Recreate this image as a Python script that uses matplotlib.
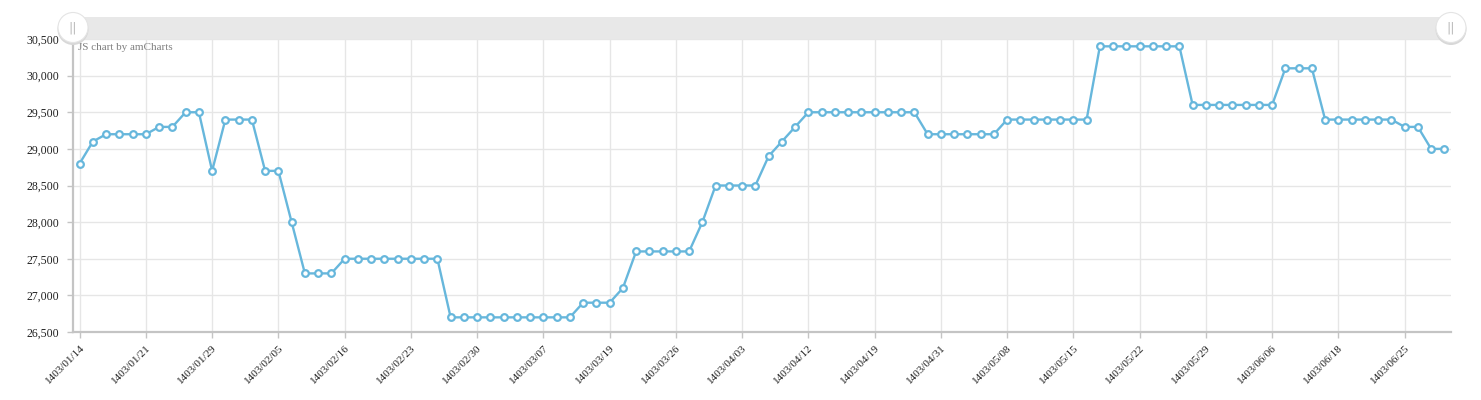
import matplotlib
matplotlib.use('Agg')
import matplotlib.pyplot as plt
from matplotlib.patches import Rectangle, Circle

# Precios por fecha (calendario persa), un punto por registro
precios = [
    28800, 29100, 29200, 29200, 29200, 29200, 29300, 29300, 29500, 29500,
    28700, 29400, 29400, 29400, 28700, 28700, 28000, 27300, 27300, 27300,
    27500, 27500, 27500, 27500, 27500, 27500, 27500, 27500, 26700, 26700,
    26700, 26700, 26700, 26700, 26700, 26700, 26700, 26700, 26900, 26900,
    26900, 27100, 27600, 27600, 27600, 27600, 27600, 28000, 28500, 28500,
    28500, 28500, 28900, 29100, 29300, 29500, 29500, 29500, 29500, 29500,
    29500, 29500, 29500, 29500, 29200, 29200, 29200, 29200, 29200, 29200,
    29400, 29400, 29400, 29400, 29400, 29400, 29400, 30400, 30400, 30400,
    30400, 30400, 30400, 30400, 29600, 29600, 29600, 29600, 29600, 29600,
    29600, 30100, 30100, 30100, 29400, 29400, 29400, 29400, 29400, 29400,
    29300, 29300, 29000, 29000,
]

# Etiquetas visibles del eje x (una cada 5 puntos)
etiquetas_x = [
    '1403/01/14', '1403/01/21', '1403/01/29', '1403/02/05', '1403/02/16',
    '1403/02/23', '1403/02/30', '1403/03/07', '1403/03/19', '1403/03/26',
    '1403/04/03', '1403/04/12', '1403/04/19', '1403/04/31', '1403/05/08',
    '1403/05/15', '1403/05/22', '1403/05/29', '1403/06/06', '1403/06/18',
    '1403/06/25',
]
paso_etiquetas = 5

ticks_y = [26500, 27000, 27500, 28000, 28500, 29000, 29500, 30000, 30500]

W, H = 1481, 400
fig = plt.figure(figsize=(W / 100, H / 100), dpi=100)
fig.patch.set_facecolor('white')

# Área del gráfico en píxeles
izq, der, arriba, abajo = 73, 1451, 39, 332
ax = fig.add_axes([izq / W, (H - abajo) / H, (der - izq) / W, (abajo - arriba) / H])

x = list(range(len(precios)))
ax.plot(x, precios, color='#67b7dc', linewidth=1.7, marker='o', markersize=4.8,
        markerfacecolor='white', markeredgecolor='#67b7dc', markeredgewidth=1.6,
        zorder=3, clip_on=False)

ax.set_xlim(-0.5, len(precios) - 0.5)
ax.set_ylim(26500, 30500)

pos_ticks = [i * paso_etiquetas for i in range(len(etiquetas_x))]
ax.set_xticks(pos_ticks)
ax.set_xticklabels(etiquetas_x, rotation=45, ha='right', va='top',
                   rotation_mode='anchor', fontsize=8, family='Liberation Serif',
                   color='#222222')
ax.set_yticks(ticks_y)
ax.set_yticklabels([f'{v:,}' for v in ticks_y], fontsize=8.5,
                   family='Liberation Serif', color='#222222')

ax.grid(True, color='#e6e6e6', linewidth=1)
ax.set_axisbelow(True)

for lado in ('top', 'right'):
    ax.spines[lado].set_visible(False)
for lado in ('left', 'bottom'):
    ax.spines[lado].set_color('#c4c4c4')
    ax.spines[lado].set_linewidth(1.6)

ax.tick_params(axis='y', length=4, width=1, color='#c4c4c4', pad=6)
ax.tick_params(axis='x', length=4, width=1, color='#c4c4c4', pad=4)

# Barra de desplazamiento superior
fig.patches.append(Rectangle((izq / W, (H - 39) / H), (der - izq) / W, 22 / H,
                             transform=fig.transFigure, facecolor='#e8e8e8',
                             edgecolor='none', zorder=1))
for cx in (73, 1451):
    sombra = Circle((cx, H - 29.5), 15.5, transform=None, facecolor='#d8d8d8',
                    edgecolor='none', zorder=4)
    boton = Circle((cx, H - 27.5), 15, transform=None, facecolor='white',
                   edgecolor='#e4e4e4', linewidth=0.8, zorder=5)
    fig.patches.extend([sombra, boton])
    fig.text(cx / W, (H - 28) / H, '||', ha='center', va='center', fontsize=9,
             color='#b8b8b8', zorder=6)

# Marca de agua
fig.text(78 / W, (H - 47) / H, 'JS chart by amCharts', ha='left', va='center',
         fontsize=8, family='Liberation Serif', color='#808080')

fig.savefig('out.png', dpi=100, facecolor='white')
plt.close(fig)
